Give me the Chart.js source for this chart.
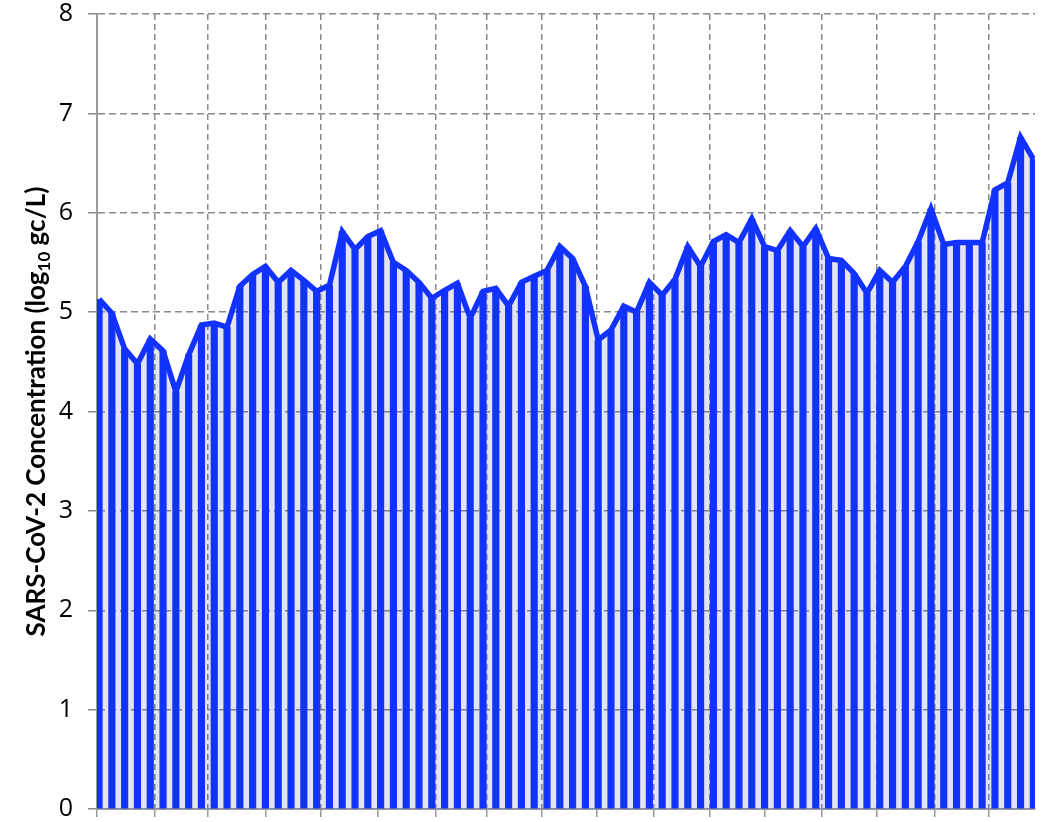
<!DOCTYPE html>
<html lang="en">
<head>
    <meta charset="UTF-8">
    <title>SARS-CoV-2 Concentration</title>
    <script src="https://cdn.jsdelivr.net/npm/chart.js"></script>
    <style>
        body {
            margin: 0;
            background: #fff;
        }
        #chart-container {
            position: relative;
            width: 1046px;
            height: 822px;
        }
    </style>
</head>
<body>
    <div id="chart-container">
        <canvas id="conc-chart"></canvas>
    </div>

    <script>
        // log10 gc/L, one value per sample, read left to right
        const concentrations = [
            5.13, 4.99, 4.63, 4.48, 4.73, 4.61, 4.20, 4.57, 4.87, 4.89,
            4.85, 5.26, 5.38, 5.46, 5.30, 5.42, 5.32, 5.21, 5.27, 5.81,
            5.63, 5.76, 5.82, 5.50, 5.42, 5.30, 5.14, 5.22, 5.29, 4.94,
            5.21, 5.24, 5.06, 5.30, 5.36, 5.42, 5.66, 5.54, 5.26, 4.72,
            4.82, 5.06, 5.00, 5.30, 5.17, 5.33, 5.66, 5.46, 5.71, 5.78,
            5.70, 5.94, 5.66, 5.62, 5.82, 5.66, 5.84, 5.54, 5.52, 5.39,
            5.19, 5.42, 5.30, 5.46, 5.71, 6.04, 5.68, 5.70, 5.70, 5.70,
            6.23, 6.30, 6.76, 6.54
        ];
        // vertical grid lines (in sample-index units)
        const xGridTicks = [-0.16, 4.38, 8.52, 13.05, 17.34, 21.8, 26.3, 30.29, 34.59,
            38.88, 43.38, 47.68, 51.98, 56.5, 60.8, 65.26, 69.55];
        const yTicks = [0, 1, 2, 3, 4, 5, 6, 7, 8];
        const titleParts = ['SARS-CoV-2 Concentration (log', '10', ' gc/L)'];

        const blue = '#1232ff';
        const gridGray = '#8a8a8a';
        const points = concentrations.map((v, i) => ({ x: i, y: v }));

        // y axis title with a real subscript
        const yTitlePlugin = {
            id: 'yTitle',
            afterDraw(chart) {
                const { ctx, chartArea } = chart;
                const big = 'bold 26px Lato';
                const small = 'bold 17px Lato';
                ctx.save();
                ctx.font = big;
                const w1 = ctx.measureText(titleParts[0]).width;
                const w3 = ctx.measureText(titleParts[2]).width;
                ctx.font = small;
                const w2 = ctx.measureText(titleParts[1]).width;
                ctx.translate(45, (chartArea.top + chartArea.bottom) / 2);
                ctx.rotate(-Math.PI / 2);
                ctx.fillStyle = '#000';
                ctx.textAlign = 'left';
                ctx.textBaseline = 'alphabetic';
                let x = -(w1 + w2 + w3) / 2;
                ctx.font = big;
                ctx.fillText(titleParts[0], x, 0);
                x += w1;
                ctx.font = small;
                ctx.fillText(titleParts[1], x, 5);
                x += w2;
                ctx.font = big;
                ctx.fillText(titleParts[2], x, 0);
                ctx.restore();
            }
        };

        const config = {
            data: {
                datasets: [{
                    type: 'line',
                    data: points,
                    borderColor: blue,
                    borderWidth: 5.5,
                    backgroundColor: 'rgba(70, 70, 170, 0.15)',
                    fill: 'origin',
                    pointRadius: 0,
                    tension: 0,
                    order: 0
                }, {
                    type: 'bar',
                    data: points,
                    backgroundColor: blue,
                    barThickness: 6.5,
                    order: 1
                }]
            },
            options: {
                responsive: true,
                maintainAspectRatio: false,
                animation: false,
                layout: {
                    padding: { right: 11 }
                },
                plugins: {
                    legend: { display: false },
                    tooltip: { enabled: false },
                    filler: { drawTime: 'beforeDatasetsDraw' }
                },
                scales: {
                    x: {
                        type: 'linear',
                        min: -0.16,
                        max: 73.13,
                        offset: false,
                        afterBuildTicks: (scale) => {
                            scale.ticks = xGridTicks.map(v => ({ value: v }));
                        },
                        afterFit: (scale) => {
                            scale.height = 13;
                        },
                        ticks: { display: false },
                        grid: {
                            offset: false,
                            color: gridGray,
                            lineWidth: 1.5,
                            tickLength: 8,
                            tickColor: '#999'
                        },
                        border: {
                            color: '#9a9a9a',
                            width: 2,
                            dash: [6, 4]
                        }
                    },
                    y: {
                        min: 0,
                        max: 8,
                        afterBuildTicks: (scale) => {
                            scale.ticks = yTicks.map(v => ({ value: v }));
                        },
                        afterFit: (scale) => {
                            scale.width = 97;
                            scale.paddingTop = 14;
                            scale.paddingBottom = 0;
                        },
                        ticks: {
                            color: '#000',
                            padding: 15,
                            font: { family: 'Open Sans', size: 25 }
                        },
                        grid: {
                            color: gridGray,
                            lineWidth: 1.5,
                            tickLength: 9
                        },
                        border: {
                            color: '#9a9a9a',
                            width: 2,
                            dash: [7, 4]
                        }
                    }
                }
            },
            plugins: [yTitlePlugin]
        };

        const ctx = document.getElementById('conc-chart').getContext('2d');
        new Chart(ctx, config);
    </script>
</body>
</html>
